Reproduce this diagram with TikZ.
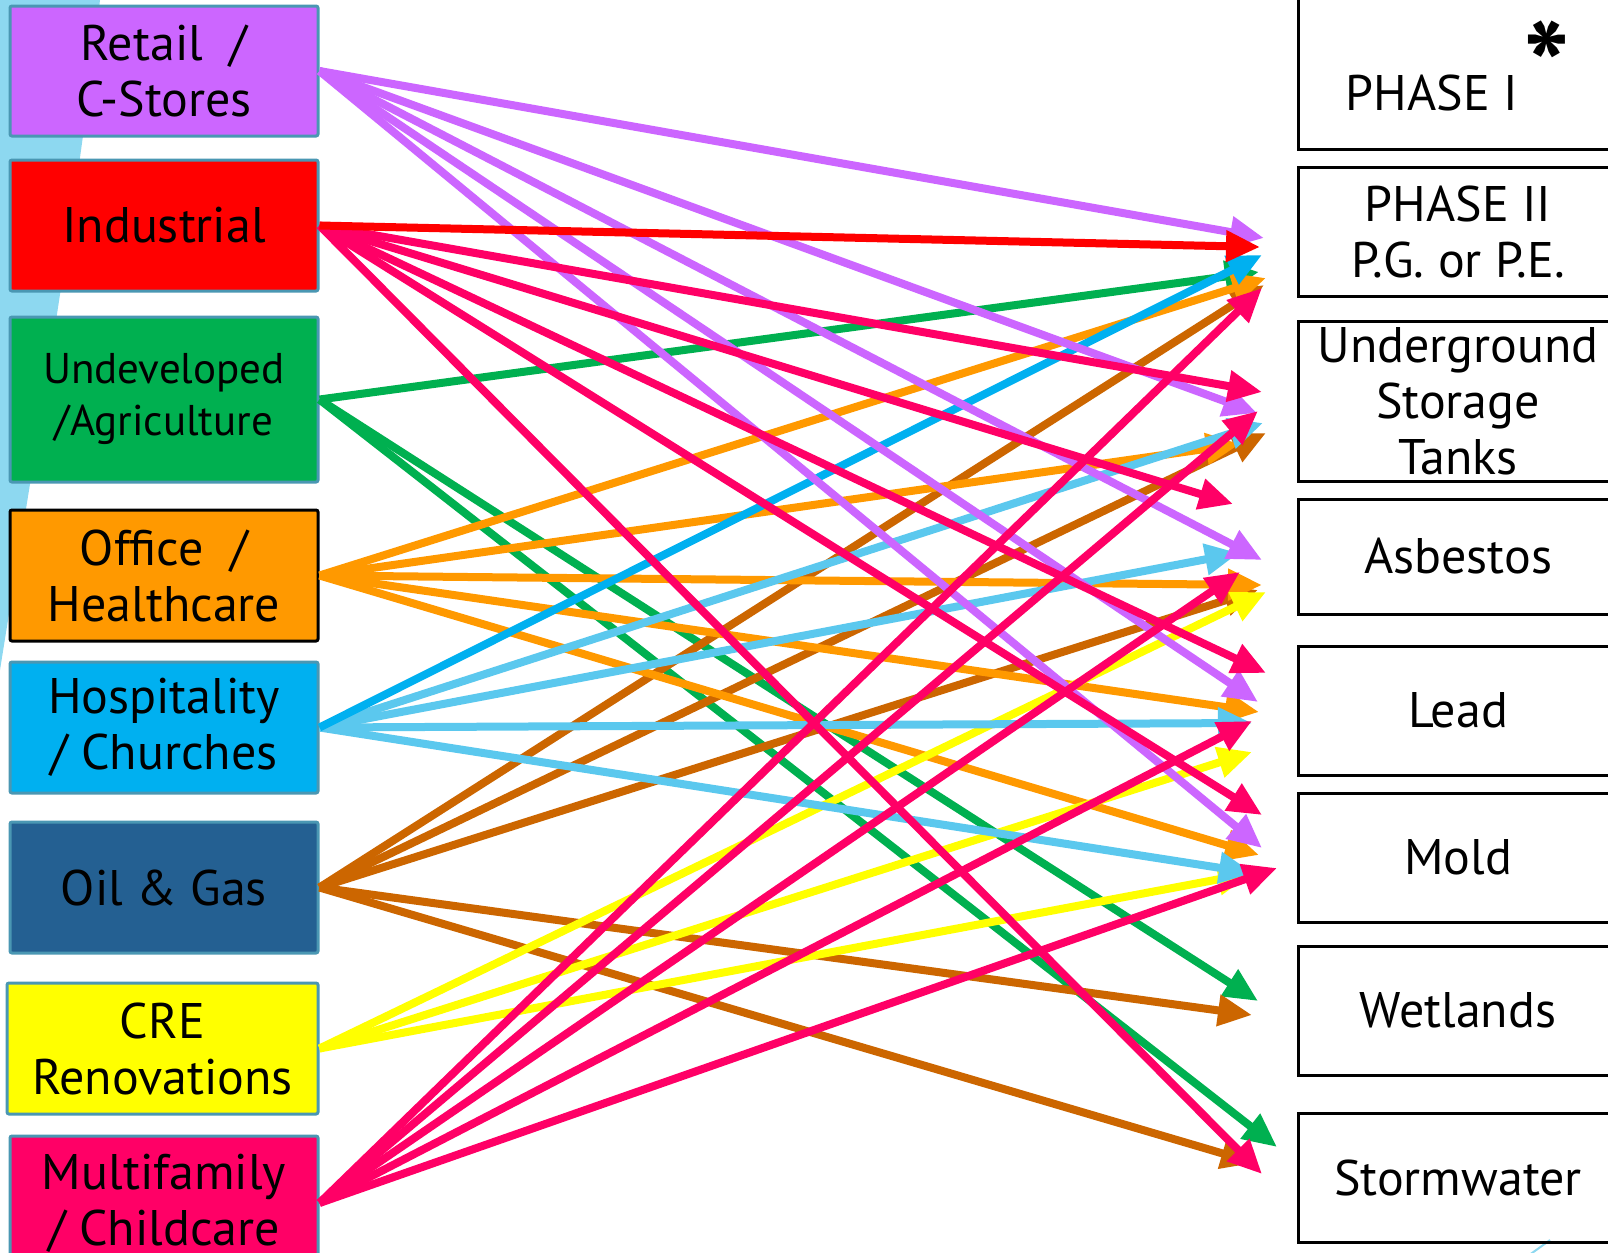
\documentclass[tikz,border=0pt]{standalone}
\usepackage{fontspec}
\setmainfont{PT Sans}
\usetikzlibrary{arrows.meta}
\definecolor{cpurple}{HTML}{CC66FF}
\definecolor{cred}{HTML}{FF0000}
\definecolor{cgreen}{HTML}{00B050}
\definecolor{corange}{HTML}{FF9900}
\definecolor{cblue}{HTML}{00B0F0}
\definecolor{clight}{HTML}{5BC8EE}
\definecolor{cnavy}{HTML}{246092}
\definecolor{cyellow}{HTML}{FFFF00}
\definecolor{cpink}{HTML}{FF0066}
\definecolor{cbrown}{HTML}{CC6600}
\definecolor{lborder}{HTML}{4A97B3}
\definecolor{deco}{HTML}{8DD8F0}
\tikzset{
  lbox/.style={draw=lborder, line width=1.5pt, rounded corners=1pt, minimum width=154pt,
    inner sep=0pt, align=center, text=black, font=\fontsize{25}{28}\selectfont},
  rbox/.style={draw=black, line width=1.5pt, minimum width=160pt, inner sep=0pt,
    align=center, text=black, font=\fontsize{25}{28}\selectfont},
  txt/.style={inner sep=0pt, align=center, text=black, font=\fontsize{25}{28}\selectfont},
  conn/.style={line width=4pt, -{Triangle[length=17pt,width=15pt]}},
}
\begin{document}
\begin{tikzpicture}[x=0.5pt,y=-0.5pt]
\clip (0,0) rectangle (1608,1253);
\fill[white] (0,0) rectangle (1608,1253);
% slide decoration
\fill[deco] (0,0) -- (100,0) .. controls (75,220) and (35,450) .. (0,670) -- cycle;
\draw[deco, line width=1pt] (1528,1256) .. controls (1536,1250) and (1542,1246) .. (1550,1240);

% left boxes
\node[lbox, fill=cpurple, minimum height=65pt] (retail) at (164,71) {Retail \ /\\C-Stores};
\node[lbox, fill=cred, minimum height=65.5pt] (indus) at (164,225.5) {Industrial};
\node[lbox, fill=cgreen, minimum height=82.5pt, font=\fontsize{21.5}{26}\selectfont] (undev) at (164,399.5) {Undeveloped\\/Agriculture};
\node[lbox, draw=black, fill=corange, minimum height=65.5pt] (office) at (164,575.5) {Office \ /\\Healthcare};
\node[lbox, fill=cblue, minimum height=65.5pt] (hosp) at (164,727.5) {Hospitality\\/ Churches};
\node[lbox, fill=cnavy, minimum height=65.5pt] (oil) at (164,887.5) {Oil \& Gas};
\node[lbox, fill=cyellow, minimum height=65.5pt, minimum width=155.5pt] (cre) at (162.5,1048.5) {CRE\\Renovations};
\node[lbox, fill=cpink, minimum height=67pt] (multi) at (164,1203) {Multifamily\\/ Childcare};

% right boxes
\node[rbox, minimum height=94.5pt] (phase1) at (1458,54.5) {};
\node[txt] (phase1txt) at (1432,93) {PHASE I};
\node[inner sep=0pt, font=\fontsize{62}{62}\bfseries\selectfont] (phase1star) at (1547,66) {*};
\node[rbox, minimum height=64.5pt] (phase2) at (1458,231.5) {PHASE II\\P.G. or P.E.};
\node[rbox, minimum height=80pt] (ust) at (1458,401) {Underground\\Storage\\Tanks};
\node[rbox, minimum height=57.5pt] (asb) at (1458,556.5) {Asbestos};
\node[rbox, minimum height=64.5pt] (lead) at (1458,710.5) {Lead};
\node[rbox, minimum height=64.5pt] (mold) at (1458,857.5) {Mold};
\node[rbox, minimum height=64.5pt] (wet) at (1458,1010.5) {Wetlands};
\node[rbox, minimum height=64.5pt] (storm) at (1458,1177.5) {Stormwater};

% arrow end points
\coordinate (r1) at (1264,238);
\coordinate (r2) at (1257,413);
\coordinate (r3) at (1262,560);
\coordinate (r4) at (1258,702);
\coordinate (r5) at (1262,848);
\coordinate (i1) at (1260,247);
\coordinate (i2) at (1262,392);
\coordinate (i3) at (1233,504);
\coordinate (i4) at (1266,673);
\coordinate (i5) at (1262,815);
\coordinate (i6) at (1262,1174);
\coordinate (u1) at (1259,272);
\coordinate (u2) at (1258,1001);
\coordinate (u3) at (1277,1147);
\coordinate (o1) at (1266,278);
\coordinate (o2) at (1240,444);
\coordinate (o3) at (1262,585);
\coordinate (o4) at (1259,712);
\coordinate (o5) at (1259,855);
\coordinate (h1) at (1262,255);
\coordinate (h2) at (1263,423);
\coordinate (h3) at (1239,553);
\coordinate (h4) at (1252,723);
\coordinate (h5) at (1253,873);
\coordinate (g1) at (1264,285);
\coordinate (g2) at (1266,433);
\coordinate (g3) at (1258,590);
\coordinate (g4) at (1252,1015);
\coordinate (g5) at (1255,1163);
\coordinate (c1) at (1266,592);
\coordinate (c2) at (1252,752);
\coordinate (c3) at (1252,873);
\coordinate (m1) at (1262,288);
\coordinate (m2) at (1258,411);
\coordinate (m3) at (1240,572);
\coordinate (m4) at (1252,721);
\coordinate (m5) at (1277,868);

% connectors
\foreach \e in {u1,u2,u3} \draw[conn, cgreen] (undev.east) -- (\e);
\foreach \e in {g1,g2,g3,g4,g5} \draw[conn, cbrown] (oil.east) -- (\e);
\foreach \e in {o2,o1,o3,o4,o5} \draw[conn, corange] (office.east) -- (\e);
\foreach \e in {c1,c2,c3} \draw[conn, cyellow] (cre.east) -- (\e);
\foreach \e in {h2,h3,h4,h5} \draw[conn, clight] (hosp.east) -- (\e);
\draw[conn, cblue] (hosp.east) -- (h1);
\foreach \e in {r1,r2,r3,r4,r5} \draw[conn, cpurple] (retail.east) -- (\e);
\foreach \e in {i2,i3,i4,i5,i6} \draw[conn, cpink] (indus.east) -- (\e);
\draw[conn, cred] (indus.east) -- (i1);
\foreach \e in {m1,m2,m3,m4,m5} \draw[conn, cpink] (multi.east) -- (\e);
\end{tikzpicture}
\end{document}
